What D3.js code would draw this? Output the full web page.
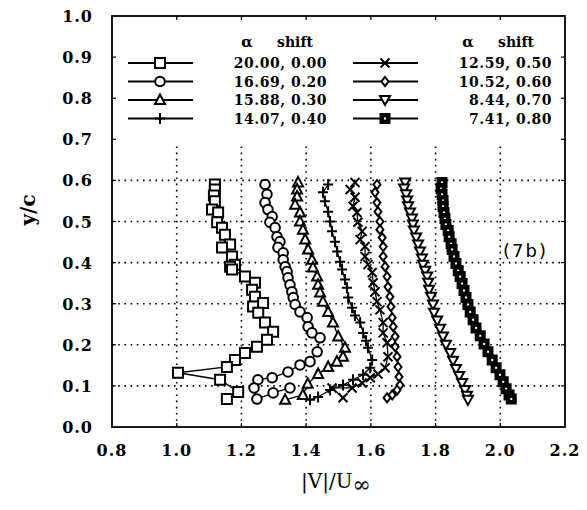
<!DOCTYPE html>
<html>
<head>
<meta charset="utf-8">
<script src="https://cdn.jsdelivr.net/npm/d3@7/dist/d3.min.js"></script>
<style>
  body { margin: 0; background: #fff; }
  text { fill: #000; }
</style>
</head>
<body>
<script>
// legend labels
var alphaVals = ["20.00", "16.69", "15.88", "14.07", "12.59", "10.52", "8.44", "7.41"];
var shiftVals = ["0.00", "0.20", "0.30", "0.40", "0.50", "0.60", "0.70", "0.80"];
var markerTypes = ["square", "circle", "triangle", "plus", "times", "diamond", "triDown", "filledSquare"];

// tick labels
var xTicks = [0.8, 1.0, 1.2, 1.4, 1.6, 1.8, 2.0, 2.2];
var yTicks = [0.0, 0.1, 0.2, 0.3, 0.4, 0.5, 0.6, 0.7, 0.8, 0.9, 1.0];

// series, [|V|/Uinf, y/c]
var sqPts = [[1.118,0.590],[1.118,0.578],[1.115,0.563],[1.118,0.549],[1.109,0.529],[1.128,0.522],
  [1.125,0.498],[1.140,0.485],[1.149,0.468],[1.165,0.444],[1.140,0.437],[1.171,0.415],[1.180,0.395],
  [1.165,0.390],[1.171,0.383],[1.211,0.366],[1.242,0.351],[1.233,0.334],[1.242,0.317],[1.267,0.302],
  [1.236,0.293],[1.252,0.278],[1.273,0.254],[1.298,0.232],[1.279,0.212],[1.248,0.195],[1.211,0.180],
  [1.180,0.163],[1.155,0.146],[1.004,0.132],[1.134,0.115],[1.190,0.085],[1.155,0.068]];
var circPts = [[1.273,0.590],[1.279,0.566],[1.273,0.546],[1.282,0.529],[1.295,0.512],[1.288,0.498],
  [1.304,0.485],[1.310,0.463],[1.319,0.451],[1.313,0.437],[1.329,0.424],[1.329,0.407],[1.335,0.390],
  [1.341,0.378],[1.344,0.363],[1.350,0.346],[1.356,0.329],[1.360,0.315],[1.366,0.298],[1.381,0.280],
  [1.403,0.266],[1.406,0.244],[1.418,0.229],[1.443,0.217],[1.434,0.183],[1.412,0.159],[1.381,0.151],
  [1.344,0.134],[1.295,0.120],[1.251,0.115],[1.239,0.095],[1.248,0.068],[1.298,0.083],[1.350,0.095]];
var triPts = [[1.375,0.595],[1.372,0.578],[1.372,0.561],[1.366,0.541],[1.381,0.522],[1.381,0.500],
  [1.390,0.480],[1.397,0.456],[1.406,0.432],[1.418,0.407],[1.421,0.388],[1.434,0.366],[1.437,0.346],
  [1.443,0.327],[1.452,0.305],[1.468,0.280],[1.483,0.254],[1.499,0.220],[1.520,0.193],[1.514,0.171],
  [1.495,0.159],[1.468,0.146],[1.437,0.129],[1.405,0.105],[1.390,0.078],[1.335,0.066]];
var plusPts = [[1.468,0.590],[1.452,0.571],[1.458,0.549],[1.468,0.524],[1.474,0.500],[1.480,0.476],
  [1.489,0.451],[1.496,0.427],[1.505,0.402],[1.511,0.383],[1.520,0.359],[1.526,0.339],[1.530,0.315],
  [1.542,0.290],[1.551,0.271],[1.567,0.254],[1.576,0.229],[1.585,0.210],[1.591,0.193],[1.604,0.163],
  [1.598,0.144],[1.576,0.127],[1.545,0.115],[1.514,0.102],[1.474,0.090],[1.437,0.073],[1.412,0.066]];
var timesPts = [[1.551,0.595],[1.536,0.578],[1.551,0.559],[1.545,0.537],[1.557,0.522],[1.560,0.498],
  [1.573,0.476],[1.567,0.456],[1.582,0.439],[1.582,0.415],[1.591,0.395],[1.604,0.376],[1.607,0.351],
  [1.613,0.329],[1.619,0.305],[1.628,0.285],[1.638,0.254],[1.638,0.229],[1.650,0.205],[1.653,0.171],
  [1.644,0.144],[1.622,0.129],[1.598,0.120],[1.573,0.107],[1.542,0.095],[1.480,0.095],[1.514,0.071]];
var diaPts = [[1.619,0.590],[1.613,0.571],[1.619,0.546],[1.622,0.524],[1.628,0.500],[1.628,0.480],
  [1.635,0.461],[1.638,0.439],[1.638,0.415],[1.644,0.390],[1.650,0.366],[1.653,0.341],[1.659,0.317],
  [1.662,0.293],[1.666,0.266],[1.669,0.244],[1.675,0.220],[1.675,0.195],[1.681,0.171],[1.684,0.146],
  [1.687,0.122],[1.690,0.102],[1.681,0.090],[1.666,0.078],[1.650,0.071]];
var triDownPts = [[1.706,0.595],[1.703,0.580],[1.709,0.566],[1.712,0.551],[1.715,0.537],[1.721,0.522],
  [1.727,0.507],[1.730,0.493],[1.733,0.478],[1.740,0.461],[1.746,0.444],[1.752,0.427],[1.758,0.410],
  [1.761,0.395],[1.768,0.380],[1.774,0.366],[1.777,0.351],[1.780,0.334],[1.786,0.317],[1.792,0.298],
  [1.795,0.278],[1.805,0.259],[1.814,0.239],[1.823,0.220],[1.832,0.200],[1.845,0.180],[1.854,0.161],
  [1.863,0.141],[1.873,0.124],[1.882,0.107],[1.891,0.090],[1.897,0.076],[1.900,0.066]];
var fsqPts = [[1.820,0.595],[1.817,0.580],[1.820,0.566],[1.823,0.551],[1.823,0.537],[1.826,0.522],
  [1.829,0.507],[1.832,0.493],[1.839,0.478],[1.842,0.463],[1.848,0.446],[1.851,0.432],[1.857,0.415],
  [1.863,0.398],[1.870,0.380],[1.876,0.366],[1.882,0.349],[1.888,0.332],[1.894,0.315],[1.900,0.298],
  [1.907,0.280],[1.916,0.261],[1.925,0.241],[1.938,0.222],[1.950,0.202],[1.962,0.183],[1.975,0.163],
  [1.987,0.144],[1.999,0.127],[2.009,0.110],[2.018,0.093],[2.027,0.078],[2.034,0.068]];

var allSeries = [sqPts, circPts, triPts, plusPts, timesPts, diaPts, triDownPts, fsqPts];

var W = 587, H = 510;
var plotL = 112, plotR = 565, plotT = 16, plotB = 427;

var x = d3.scaleLinear().domain([0.8, 2.2]).range([plotL, plotR]);
var y = d3.scaleLinear().domain([0, 1]).range([plotB, plotT]);

var svg = d3.select("body").append("svg")
    .attr("width", W)
    .attr("height", H);

// marker shapes, centred on 0,0
function markerPath(t) {
  switch (t) {
    case "square": return "M-5,-5H5V5H-5Z";
    case "filledSquare": return "M-4.5,-4.5H4.5V4.5H-4.5Z";
    case "circle": return "M-4.8,0A4.8,4.8 0 1,0 4.8,0A4.8,4.8 0 1,0 -4.8,0Z";
    case "triangle": return "M0,-5.5L5,4L-5,4Z";
    case "triDown": return "M0,5L5,-4L-5,-4Z";
    case "diamond": return "M0,-4.5L3.5,0L0,4.5L-3.5,0Z";
    case "plus": return "M-5,0H5M0,-5.5V5.5";
    case "times": return "M-4.5,-4.5L4.5,4.5M-4.5,4.5L4.5,-4.5";
  }
}

function drawMarker(g, t) {
  g.append("path")
    .attr("d", markerPath(t))
    .attr("fill", t == "filledSquare" ? "#000" : (t == "plus" || t == "times" ? "none" : "#fff"))
    .attr("stroke", "#000")
    .attr("stroke-width", 2);
  if (t == "filledSquare") {
    g.append("rect").attr("x", -1).attr("y", -1).attr("width", 2).attr("height", 2).attr("fill", "#fff");
  }
}

// dotted grid
var grid = svg.append("g")
    .attr("stroke", "#000")
    .attr("stroke-width", 1.6)
    .attr("stroke-dasharray", "1.6,4.6");
grid.selectAll(".gx")
    .data(xTicks.slice(1, -1))
  .enter().append("line")
    .attr("x1", function(d) { return x(d); })
    .attr("x2", function(d) { return x(d); })
    .attr("y1", y(0))
    .attr("y2", y(1));
grid.selectAll(".gy")
    .data(yTicks.slice(1, -1))
  .enter().append("line")
    .attr("x1", x(0.8))
    .attr("x2", x(2.2))
    .attr("y1", function(d) { return y(d); })
    .attr("y2", function(d) { return y(d); });

// curves
var line = d3.line()
    .x(function(d) { return x(d[0]); })
    .y(function(d) { return y(d[1]); });

allSeries.forEach(function(pts, i) {
  svg.append("path")
      .datum(pts)
      .attr("d", line)
      .attr("fill", "none")
      .attr("stroke", "#000")
      .attr("stroke-width", 1.3);
});
allSeries.forEach(function(pts, i) {
  svg.append("g").selectAll("g")
      .data(pts)
    .enter().append("g")
      .attr("transform", function(d) { return "translate(" + x(d[0]) + "," + y(d[1]) + ")"; })
      .each(function() { drawMarker(d3.select(this), markerTypes[i]); });
});

// legend box hides the upper grid
svg.append("rect")
    .attr("x", plotL)
    .attr("y", plotT)
    .attr("width", plotR - plotL)
    .attr("height", 126)
    .attr("fill", "#fff");

var legFont = "'DejaVu Serif', serif";
[[247, 277], [468, 498]].forEach(function(p) {
  svg.append("text").attr("x", p[0]).attr("y", 47)
      .attr("text-anchor", "middle")
      .style("font", "bold 15px " + legFont)
      .text("\u03b1");
  svg.append("text").attr("x", p[1]).attr("y", 47)
      .style("font", "bold 14px " + legFont)
      .text("shift");
});

var legend = svg.selectAll(".legend")
    .data(alphaVals)
  .enter().append("g")
    .attr("class", "legend")
    .attr("transform", function(d, i) {
      var col = i < 4 ? 0 : 1, row = i % 4;
      return "translate(" + (col * 225) + "," + (63 + row * 18.5) + ")";
    });
legend.append("line")
    .attr("x1", 128).attr("x2", 193)
    .attr("stroke", "#000").attr("stroke-width", 1.8);
legend.append("g")
    .attr("transform", "translate(160,0)")
    .each(function(d, i) { drawMarker(d3.select(this), markerTypes[i]); });
legend.append("text")
    .attr("x", 327)
    .attr("y", 5)
    .attr("text-anchor", "end")
    .style("font", "bold 14px " + legFont)
    .style("letter-spacing", "0.5px")
    .text(function(d, i) { return d + ", " + shiftVals[i]; });

// frame and inner ticks
svg.append("rect")
    .attr("x", plotL).attr("y", plotT)
    .attr("width", plotR - plotL).attr("height", plotB - plotT)
    .attr("fill", "none").attr("stroke", "#000").attr("stroke-width", 1.8);
var ticks = svg.append("g").attr("stroke", "#000").attr("stroke-width", 1.2);
xTicks.slice(1, -1).forEach(function(v) {
  ticks.append("line").attr("x1", x(v)).attr("x2", x(v)).attr("y1", plotT).attr("y2", plotT + 4);
  ticks.append("line").attr("x1", x(v)).attr("x2", x(v)).attr("y1", plotB).attr("y2", plotB - 4);
});
yTicks.slice(1, -1).forEach(function(v) {
  ticks.append("line").attr("x1", plotL).attr("x2", plotL + 4).attr("y1", y(v)).attr("y2", y(v));
  ticks.append("line").attr("x1", plotR).attr("x2", plotR - 4).attr("y1", y(v)).attr("y2", y(v));
});

// tick labels
var tickFont = "bold 16px 'DejaVu Serif', serif";
svg.append("g").selectAll("text")
    .data(xTicks)
  .enter().append("text")
    .attr("x", function(d) { return x(d); })
    .attr("y", 456)
    .attr("text-anchor", "middle")
    .style("font", tickFont)
    .style("letter-spacing", "1px")
    .text(function(d) { return d.toFixed(1); });
svg.append("g").selectAll("text")
    .data(yTicks)
  .enter().append("text")
    .attr("x", 93)
    .attr("y", function(d) { return y(d) + 6; })
    .attr("text-anchor", "end")
    .style("font", tickFont)
    .style("letter-spacing", "1px")
    .text(function(d) { return d.toFixed(1); });

// axis titles
svg.append("text")
    .attr("transform", "translate(35,210) rotate(-90)")
    .attr("text-anchor", "middle")
    .style("font", "bold 20px 'DejaVu Serif', serif")
    .text("y/c");

var xt = svg.append("text")
    .attr("x", 336)
    .attr("y", 488)
    .attr("text-anchor", "middle")
    .style("font", "20px 'DejaVu Serif', serif");
xt.append("tspan").text("|V|/U");
xt.append("tspan").attr("dy", 4).style("font-size", "22px").text("\u221e");

svg.append("text")
    .attr("x", 503)
    .attr("y", 257)
    .style("font", "18px 'DejaVu Sans', sans-serif")
    .style("letter-spacing", "2px")
    .text("(7b)");
</script>
</body>
</html>
